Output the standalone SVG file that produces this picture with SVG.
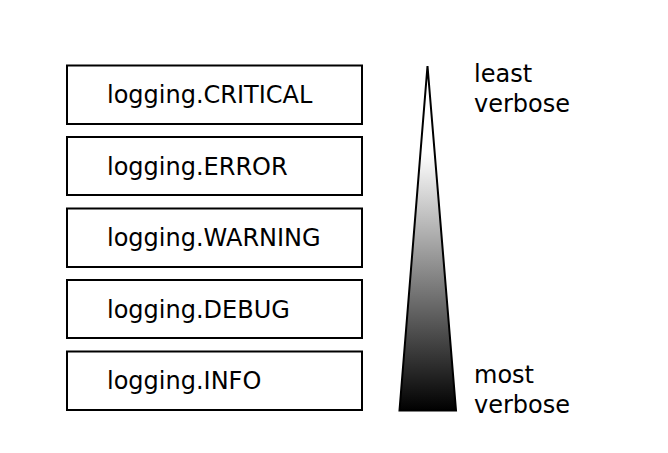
<svg xmlns="http://www.w3.org/2000/svg" width="668" height="453" viewBox="0 0 668 453">
<style>
.box{fill:#fff;stroke:#000;stroke-width:2}
.t{font-family:"DejaVu Sans",sans-serif;font-size:24px;fill:#000}
</style>
<defs>
<linearGradient id="g" x1="0" y1="66" x2="0" y2="411" gradientUnits="userSpaceOnUse">
<stop offset="0.25" stop-color="#fff"/>
<stop offset="1" stop-color="#000"/>
</linearGradient>
</defs>
<rect width="668" height="453" fill="#fff"/>
<g id="critical"><rect class="box" x="67" y="65.5" width="295" height="58.5"/><text class="t" x="107" y="103">logging.CRITICAL</text></g>
<g id="error"><rect class="box" x="67" y="137" width="295" height="58"/><text class="t" x="107" y="174.5">logging.ERROR</text></g>
<g id="warning"><rect class="box" x="67" y="208.5" width="295" height="58.5"/><text class="t" x="107" y="246">logging.WARNING</text></g>
<g id="debug"><rect class="box" x="67" y="280" width="295" height="58"/><text class="t" x="107" y="317.5">logging.DEBUG</text></g>
<g id="info"><rect class="box" x="67" y="351.5" width="295" height="58.5"/><text class="t" x="107" y="389">logging.INFO</text></g>
<g id="scale">
<polygon points="427.5,66 456,410.5 399.5,410.5" fill="url(#g)" stroke="#000" stroke-width="2" stroke-linejoin="miter"/>
<text class="t" x="474" y="82">least</text>
<text class="t" x="474" y="112">verbose</text>
<text class="t" x="474" y="383">most</text>
<text class="t" x="474" y="413">verbose</text>
</g>
</svg>
